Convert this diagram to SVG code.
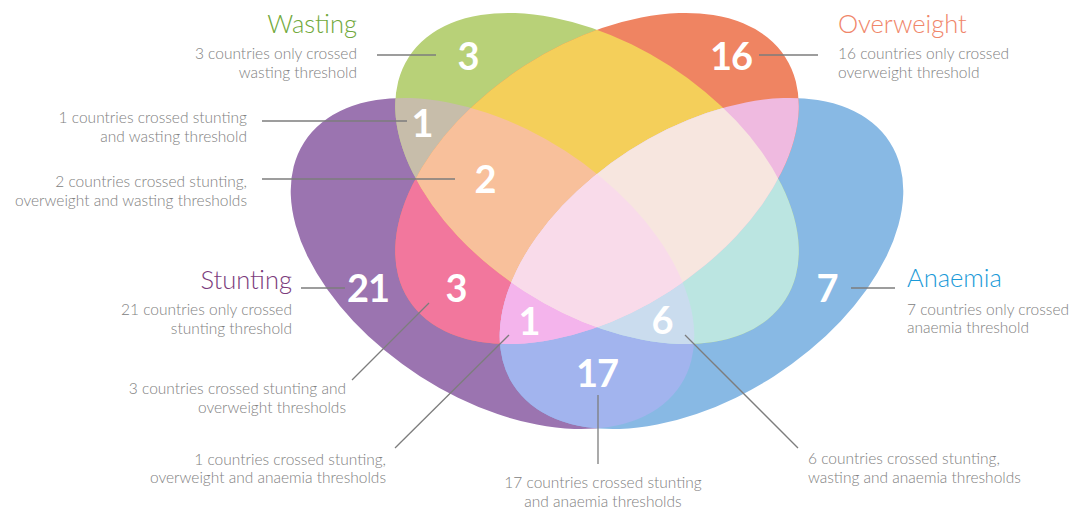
<svg xmlns="http://www.w3.org/2000/svg" xmlns:xlink="http://www.w3.org/1999/xlink" width="1072" height="512" viewBox="0 0 1072 512">
<style>
.num{font-family:Lato,"Open Sans","Liberation Sans",sans-serif;font-weight:700;font-size:38px;fill:#ffffff;text-anchor:middle;letter-spacing:-1px}
.desc{font-family:Lato,"Open Sans","Liberation Sans",sans-serif;font-weight:300;font-size:15.5px;fill:#818181}
.title{font-family:Lato,"Open Sans","Liberation Sans",sans-serif;font-weight:300;font-size:25.5px}
.end{text-anchor:end}
.mid{text-anchor:middle}
.conn line{stroke:#7d7d7d;stroke-width:1.3}
</style>
<defs>
<ellipse id="eS" cx="492.5" cy="263.5" rx="224" ry="134" transform="rotate(32.8 492.5 263.5)"/>
<ellipse id="eA" cx="701.5" cy="263.5" rx="224" ry="134" transform="rotate(-32.8 701.5 263.5)"/>
<ellipse id="eW" cx="597" cy="178.5" rx="224" ry="134" transform="rotate(32.8 597 178.5)"/>
<ellipse id="eO" cx="597" cy="178.5" rx="224" ry="134" transform="rotate(-32.8 597 178.5)"/>
<clipPath id="cS"><ellipse cx="492.5" cy="263.5" rx="224" ry="134" transform="rotate(32.8 492.5 263.5)"/></clipPath>
<clipPath id="cA"><ellipse cx="701.5" cy="263.5" rx="224" ry="134" transform="rotate(-32.8 701.5 263.5)"/></clipPath>
<clipPath id="cW"><ellipse cx="597" cy="178.5" rx="224" ry="134" transform="rotate(32.8 597 178.5)"/></clipPath>
<clipPath id="cO"><ellipse cx="597" cy="178.5" rx="224" ry="134" transform="rotate(-32.8 597 178.5)"/></clipPath>
</defs>

<g id="stunting"><use xlink:href="#eS" href="#eS" fill="#9b74b0"/></g>
<g id="anaemia"><use xlink:href="#eA" href="#eA" fill="#88b9e4"/></g>
<g id="wasting"><use xlink:href="#eW" href="#eW" fill="#b8d178"/></g>
<g id="overweight"><use xlink:href="#eO" href="#eO" fill="#ef8462"/></g>

<g id="overlaps">
<g clip-path="url(#cS)"><use href="#eW" fill="#c7bdaa"/></g>
<g clip-path="url(#cS)"><use href="#eO" fill="#f2779d"/></g>
<g clip-path="url(#cS)"><use href="#eA" fill="#a2b4ee"/></g>
<g clip-path="url(#cW)"><use href="#eO" fill="#f4cf5a"/></g>
<g clip-path="url(#cW)"><use href="#eA" fill="#bbe5e1"/></g>
<g clip-path="url(#cO)"><use href="#eA" fill="#efbae0"/></g>
<g clip-path="url(#cS)"><g clip-path="url(#cW)"><use href="#eO" fill="#f8c09b"/></g></g>
<g clip-path="url(#cS)"><g clip-path="url(#cW)"><use href="#eA" fill="#cadcee"/></g></g>
<g clip-path="url(#cS)"><g clip-path="url(#cO)"><use href="#eA" fill="#f4b4ec"/></g></g>
<g clip-path="url(#cW)"><g clip-path="url(#cO)"><use href="#eA" fill="#f7e6df"/></g></g>
<g clip-path="url(#cS)"><g clip-path="url(#cW)"><g clip-path="url(#cO)"><use href="#eA" fill="#f9dbea"/></g></g></g>
</g>

<g id="connectors" class="conn">
<line x1="377" y1="55" x2="436" y2="55"/>
<line x1="759" y1="55" x2="818" y2="55"/>
<line x1="262" y1="121" x2="407" y2="121"/>
<line x1="262" y1="179" x2="455" y2="179"/>
<line x1="301" y1="288" x2="345" y2="288"/>
<line x1="352" y1="380" x2="429" y2="303"/>
<line x1="395" y1="448" x2="509" y2="335"/>
<line x1="598" y1="395" x2="598" y2="464"/>
<line x1="685" y1="335" x2="798" y2="448"/>
<line x1="851" y1="288" x2="895" y2="288"/>
</g>

<g id="numbers">
<text class="num" x="468" y="70">3</text>
<text class="num" x="731" y="70">16</text>
<text class="num" x="422" y="137">1</text>
<text class="num" x="485" y="193">2</text>
<text class="num" x="368" y="302">21</text>
<text class="num" x="456" y="302">3</text>
<text class="num" x="529" y="335">1</text>
<text class="num" x="662" y="334">6</text>
<text class="num" x="597" y="387">17</text>
<text class="num" x="827" y="302">7</text>
</g>

<g id="label-wasting">
<text class="title end" x="357" y="33" fill="#70a83a">Wasting</text>
<text class="desc end" x="357" y="59">3 countries only crossed</text>
<text class="desc end" x="357" y="78">wasting threshold</text>
</g>
<g id="label-overweight">
<text class="title" x="838" y="33" fill="#f0866a">Overweight</text>
<text class="desc" x="838" y="59">16 countries only crossed</text>
<text class="desc" x="838" y="78">overweight threshold</text>
</g>
<g id="label-stunting">
<text class="title end" x="292" y="289" fill="#7b3b7c">Stunting</text>
<text class="desc end" x="292" y="315">21 countries only crossed</text>
<text class="desc end" x="292" y="334">stunting threshold</text>
</g>
<g id="label-anaemia">
<text class="title" x="907" y="287" fill="#1a9ad8">Anaemia</text>
<text class="desc" x="907" y="315">7 countries only crossed</text>
<text class="desc" x="907" y="333">anaemia threshold</text>
</g>
<g id="label-sw">
<text class="desc end" x="247" y="123">1 countries crossed stunting</text>
<text class="desc end" x="247" y="142">and wasting threshold</text>
</g>
<g id="label-swo">
<text class="desc end" x="247" y="187">2 countries crossed stunting,</text>
<text class="desc end" x="247" y="206">overweight and wasting thresholds</text>
</g>
<g id="label-so">
<text class="desc end" x="346" y="394">3 countries crossed stunting and</text>
<text class="desc end" x="346" y="413">overweight thresholds</text>
</g>
<g id="label-soa">
<text class="desc end" x="386" y="465">1 countries crossed stunting,</text>
<text class="desc end" x="386" y="483">overweight and anaemia thresholds</text>
</g>
<g id="label-sa">
<text class="desc mid" x="603" y="488">17 countries crossed stunting</text>
<text class="desc mid" x="603" y="507">and anaemia thresholds</text>
</g>
<g id="label-swa">
<text class="desc" x="808" y="464">6 countries crossed stunting,</text>
<text class="desc" x="808" y="483">wasting and anaemia thresholds</text>
</g>
</svg>
